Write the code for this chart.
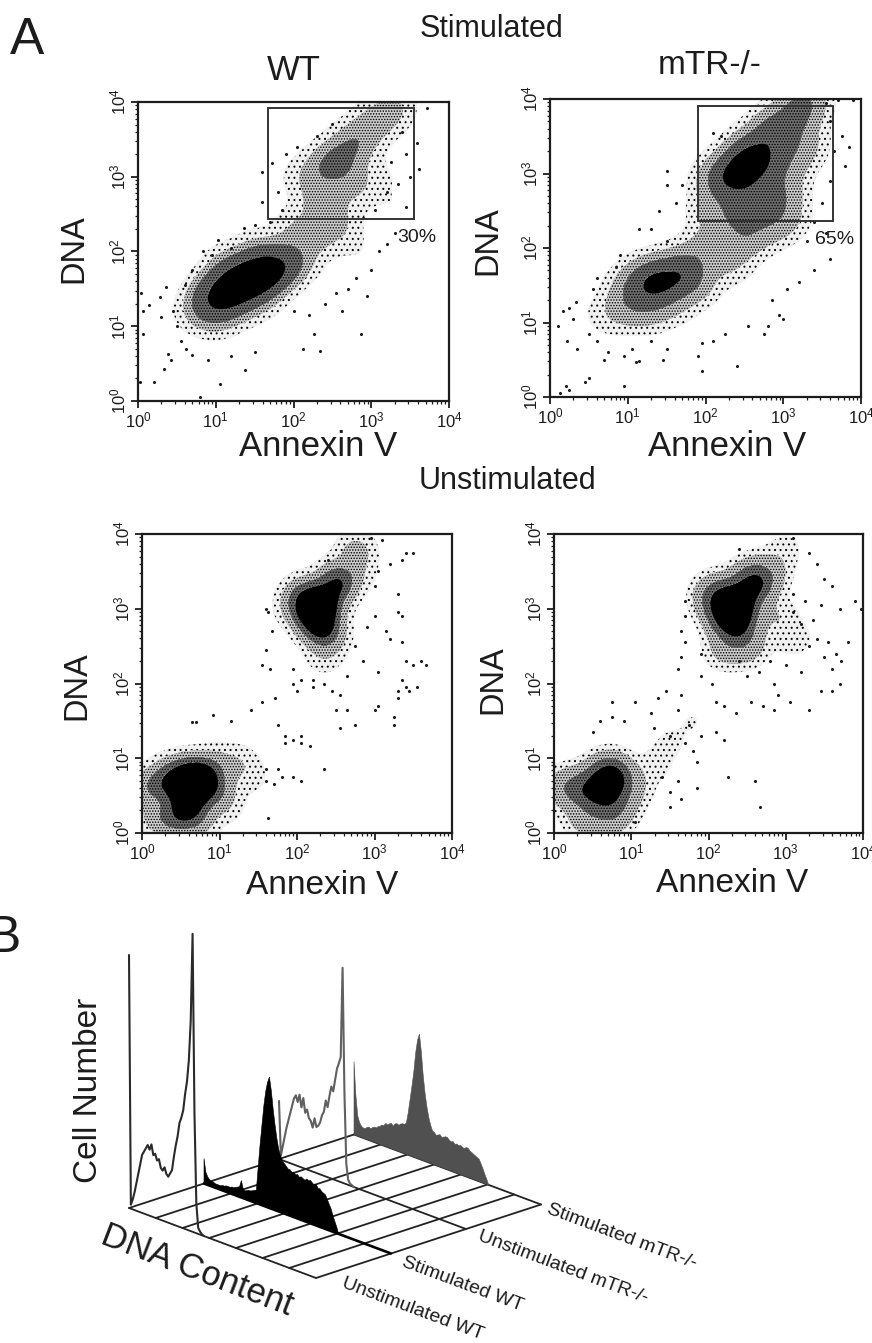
import numpy as np, pandas as pd, matplotlib
matplotlib.use("Agg")
import matplotlib.pyplot as plt, seaborn as sns
from matplotlib.patches import Rectangle
from matplotlib.ticker import LogLocator, LogFormatterMathtext, NullFormatter

# ---- data (log10 decades) ----
a1_dots=[(.04,1.44),(.06,1.21),(.14,1.28),(.06,.89),(.2,.25),(.02,.25),(.34,.43),(.43,.55),(.39,.63),(.36,1.53),(.28,1.39),(.29,1.13),(1.06,.23),(1.38,.41),(2.12,.7),(2.34,.67),(2.27,.89),(2.87,.89),(2.94,1.4),(2.62,1.21),(3.59,3.45),(3.61,3.1),(3.72,3.92),(1.59,3.06),(1.59,2.66),(1.72,3.19),(1.03,2.15),(.84,2.0),(1.36,2.31),(.8,.05),(.55,.8),(.62,.7),(.7,.62),(.9,.55),(1.2,.6),(1.5,.65),(.5,1.0),(.45,1.2),(.6,1.55),(.7,1.75),(.95,1.95),(1.2,2.05),(1.5,2.35),(1.7,2.4),(2.0,1.2),(2.2,1.15),(2.4,1.3),(2.55,1.45),(2.7,1.5),(2.8,1.65),(3.0,1.75),(3.1,2.0),(3.2,2.1),(3.3,2.25),(1.8,2.8),(1.85,2.55),(1.9,3.3),(2.05,3.4),(2.3,3.55),(2.5,3.7),(3.45,2.6),(3.5,3.0),(3.45,3.3),(3.4,3.6),(3.25,3.2),(3.2,2.8),(3.05,2.55),(2.9,2.45),(3.35,2.9)]
a2_dots=[(.13,.05),(.2,.15),(.25,.1),(.45,.2),(.5,.25),(.95,.15),(.7,.5),(1.1,.47),(1.15,.48),(1.45,.5),(1.9,.55),(1.95,.35),(2.4,.42),(.1,.95),(.17,1.15),(.25,1.2),(.33,1.27),(.3,1.05),(.22,.75),(.35,.65),(.5,.85),(.6,.75),(.75,.6),(.95,.55),(1.05,.65),(1.3,.75),(1.5,.65),(1.95,.72),(2.1,.75),(2.25,.85),(2.55,.95),(2.75,.85),(2.8,.95),(3.0,1.05),(2.85,1.3),(2.95,1.1),(3.05,1.45),(3.2,1.55),(3.4,1.7),(3.6,1.85),(1.15,2.25),(1.3,2.25),(1.5,2.1),(1.4,2.5),(1.5,2.85),(1.62,2.6),(1.5,3.03),(1.7,2.85),(2.1,3.55),(2.2,3.5),(3.8,3.1),(3.75,3.5),(3.85,3.35),(3.65,3.3),(3.6,3.7),(3.55,3.95),(3.7,3.98),(3.9,3.99),(3.6,2.9),(3.5,2.6),(3.4,2.35),(3.55,2.2),(3.3,2.1),(.9,1.9),(.85,1.75),(.6,1.6),(.55,1.45)]
b1_dots=[(1.6,3.0),(1.63,2.95),(1.6,2.45),(1.55,2.25),(1.65,2.2),(1.68,2.7),(1.72,1.8),(1.55,1.75),(1.4,1.65),(1.15,1.5),(.92,1.58),(.65,1.48),(.7,1.48),(1.75,1.45),(1.85,1.3),(1.85,1.2),(1.95,1.25),(2.05,1.3),(2.05,1.2),(2.17,1.17),(2.35,.85),(1.75,.85),(1.8,.75),(1.95,.75),(2.05,.7),(1.7,.65),(1.6,.7),(1.6,.85),(1.62,.2),(2.4,3.65),(2.95,3.95),(3.1,3.92),(3.4,3.75),(3.5,3.75),(3.35,3.65),(3.2,3.6),(3.05,3.5),(3.0,3.3),(3.3,3.2),(3.3,2.95),(3.35,2.9),(3.0,2.9),(2.9,2.75),(3.15,2.7),(3.2,2.6),(3.35,2.55),(3.4,2.3),(3.5,2.25),(3.6,2.3),(3.67,2.25),(3.35,2.05),(3.3,1.9),(3.4,1.95),(3.45,1.9),(3.55,1.95),(3.3,1.8),(3.05,2.15),(2.85,2.3),(2.75,2.5),(2.65,2.1),(2.55,1.85),(2.5,1.65),(2.65,1.65),(2.55,1.4),(2.75,1.45),(3.0,1.65),(3.05,1.7),(3.25,1.45),(3.25,1.55),(2.2,2.05),(2.05,2.05),(1.95,2.0),(2.0,1.9),(2.2,1.95),(1.95,2.2),(2.35,2.0),(2.45,1.9)]
b2_dots=[(3.9,3.1),(3.98,3.0),(3.7,3.0),(3.6,3.3),(3.5,3.4),(3.4,3.6),(3.3,3.75),(3.1,3.95),(2.4,3.8),(1.7,3.1),(1.7,2.9),(1.65,2.7),(1.7,2.55),(1.65,2.35),(1.6,2.2),(1.9,2.4),(1.9,2.1),(2.05,2.0),(2.1,1.75),(2.2,1.7),(2.35,1.6),(2.55,1.75),(2.7,1.7),(2.85,1.65),(3.05,1.75),(3.3,1.65),(3.45,1.9),(3.6,1.9),(3.7,2.0),(3.6,2.2),(3.55,2.55),(3.65,2.4),(3.8,2.55),(3.72,2.3),(3.5,2.35),(3.4,2.6),(3.3,2.5),(3.2,2.15),(3.0,2.25),(2.8,2.3),(2.65,2.15),(2.5,2.1),(2.4,2.3),(2.85,2.0),(2.9,1.85),(3.2,2.8),(3.1,2.95),(3.35,2.85),(3.25,3.1),(3.1,3.2),(3.45,3.05),(1.45,1.9),(1.65,1.85),(1.6,1.65),(1.35,1.8),(1.25,1.6),(1.05,1.75),(.75,1.75),(.75,1.55),(.6,1.5),(.5,1.35),(.9,1.5),(1.3,1.4),(1.5,1.3),(1.7,1.2),(1.8,1.1),(1.9,1.3),(2.1,1.35),(2.2,1.25),(2.25,.75),(2.6,.7),(2.67,.35),(1.65,.45),(1.85,.6),(1.4,.75),(1.5,.55),(1.5,.35),(1.05,.15),(1.6,.7),(1.85,.95),(1.75,1.45)]

a1_core=[(.85,1.3,3),(1.0,1.4,8),(1.15,1.5,9),(1.3,1.6,10),(1.45,1.65,10),(1.6,1.72,10),(1.75,1.78,8),(1.9,1.85,4),(1.0,1.15,3),(1.3,1.3,3),(1.6,1.4,2),(.7,1.15,1),(1.1,1.85,1.5),(1.5,2.05,1.5),(2.1,1.9,2),(2.0,2.3,2),(2.3,2.2,2.5),(2.5,2.45,3),(2.7,2.2,1),(2.9,1.9,.5),(2.3,2.7,2.5),(2.1,3.0,1.5),(2.4,3.1,3.5),(2.55,3.25,3.5),(2.75,3.4,3.5),(2.9,3.6,2.5),(3.1,3.75,2.5),(3.3,3.93,2.5),(2.8,2.8,1.5),(3.1,3.0,1),(3.3,2.6,.7),(2.7,3.0,2)]
a2_core=[(.7,1.1,1),(1.0,1.2,3),(1.3,1.2,3),(1.0,1.45,2),(1.24,1.53,8),(1.45,1.58,8),(1.72,1.68,8),(1.6,1.3,2),(1.9,1.5,2),(2.0,2.0,3),(2.3,1.8,2),(2.5,2.1,3),(2.1,2.5,3),(2.45,2.42,5),(2.8,2.3,3),(3.05,2.4,2),(2.15,2.9,4),(2.36,2.96,9),(2.5,3.1,9),(2.62,3.27,9),(2.88,3.54,8),(2.8,3.1,4),(3.1,3.2,3),(3.0,2.8,3),(3.26,3.94,6),(3.1,3.7,4),(3.3,3.4,2),(2.6,2.7,4),(2.9,2.6,3)]
b1_core=[(.1,.6,3),(.36,.71,6),(.75,.71,10),(.58,.45,9),(.6,.75,9),(.45,.2,4),(.7,.2,3),(.2,.2,2),(.95,.55,3),(.95,.9,2),(1.25,.95,1),(1.4,.75,.7),(1.1,.35,.7),(2.31,3.08,10),(2.52,3.35,7),(2.31,2.77,7),(2.09,3.15,5),(2.2,2.95,8),(2.4,2.6,2),(2.76,3.77,2),(2.8,3.5,.8),(1.95,3.0,.8),(2.35,2.35,.8)]
b2_core=[(.1,.6,2),(.35,.6,4),(.72,.76,10),(.6,.55,6),(.8,.35,3),(.4,.2,2),(.7,.15,1.5),(1.0,.6,1.5),(1.3,.9,.6),(1.5,1.2,.5),(1.8,1.5,.4),(2.36,3.08,10),(2.58,3.35,8),(2.36,2.77,6),(2.1,3.17,5),(2.25,2.95,8),(2.5,2.5,2),(2.8,3.5,1.5),(2.9,2.9,1),(3.1,2.6,.8),(3.0,3.8,.6),(2.2,2.45,1.5)]

a1_gate=(1.667,3.55,2.43,3.915); a2_gate=(1.90,3.64,2.366,3.90)
a1_pct="30%"; a2_pct="65%"

dna_step=0.01
unstim_wt=[253,4,10,18,28,38,48,58,62,66,70,66,72,62,64,58,60,52,50,54,48,46,50,54,68,80,90,104,110,118,135,148,170,210,298,120,30,6,3,1,0]
stim_wt=[25,12,8,6,5,5,4,4,4,4,5,5,6,6,6,7,7,8,9,10,17,9,8,9,10,10,11,12,13,37,60,80,100,115,125,131,118,100,85,72,62,56,52,50,48,46,46,44,45,43,44,42,43,42,41,43,42,43,41,40,41,38,38,36,35,34,30,26,22,16,11,6,0]
unstim_mtr=[58,4,14,24,34,42,50,58,66,70,64,72,60,70,56,60,52,50,44,54,46,48,52,60,64,76,70,82,92,88,100,112,118,125,215,90,20,5,2,1,0]
stim_mtr=[73,40,20,14,11,10,10,12,13,12,14,15,15,17,18,20,20,23,22,24,25,23,26,27,26,28,29,29,31,42,56,70,85,105,118,125,108,85,68,55,45,38,33,32,30,31,32,30,31,32,32,30,29,30,28,29,28,29,28,27,29,29,27,26,25,24,23,22,18,14,9,5,0]
series_labels=["Unstimulated WT","Stimulated WT","Unstimulated mTR-/-","Stimulated mTR-/-"]

# ---- figure ----
sns.set_theme(style="white")
plt.rcParams['font.family']=['Liberation Sans','DejaVu Sans']
plt.rcParams['mathtext.default']='regular'
plt.rcParams['hatch.linewidth']=0.7
W,H=872,1343
fig=plt.figure(figsize=(W/100,H/100),dpi=100,facecolor="white")
INK="#1c1c1c"

def panel(box,dots,core,sig,levels,gate=None):
    l,r,t,b=box
    ax=fig.add_axes([l/W,1-b/H,(r-l)/W,(b-t)/H])
    ax.set_xscale("log"); ax.set_yscale("log")
    g=np.linspace(0,4,321); X,Y=np.meshgrid(g,g); Z=np.zeros_like(X)
    for cx,cy,w in core:
        Z+=w*np.exp(-((X-cx)**2+(Y-cy)**2)/(2*sig**2))
    Z/=Z.max()
    cs=ax.contourf(10**X,10**Y,Z,levels=levels,colors=["#f0f0f0","#cccccc","#6e6e6e","#000000"],hatches=["...","......","......",None],zorder=1)
    cs.set_edgecolor("black"); cs.set_linewidth(0)
    d=pd.DataFrame(dots,columns=["x","y"]); d[["x","y"]]=10**d[["x","y"]]
    sns.scatterplot(data=d,x="x",y="y",s=5,color="k",linewidth=0,ax=ax,zorder=2)
    ax.set_xlim(1,1e4); ax.set_ylim(1,1e4)
    ax.set_xlabel(""); ax.set_ylabel("")
    for s in ax.spines.values():
        s.set_visible(True); s.set_linewidth(1.6); s.set_color(INK)
    for a in (ax.xaxis,ax.yaxis):
        a.set_major_locator(LogLocator(10,numticks=6))
        a.set_minor_locator(LogLocator(10,subs=np.arange(2,10),numticks=6))
        a.set_major_formatter(LogFormatterMathtext()); a.set_minor_formatter(NullFormatter())
    ax.tick_params(which="major",direction="out",length=5,width=1.3,color=INK,labelsize=12,pad=2,left=True,bottom=True,labelcolor=INK)
    ax.tick_params(which="minor",direction="out",length=2.5,width=.9,color=INK,left=True,bottom=True)
    for tl in ax.get_yticklabels(): tl.set_rotation(90); tl.set_va("center")
    if gate:
        ax.add_patch(Rectangle((10**gate[0],10**gate[2]),10**gate[1]-10**gate[0],10**gate[3]-10**gate[2],fill=False,ec="#333333",lw=1.4,zorder=5))
    return ax

panel((138,449,102,401),a1_dots,a1_core,.19,[.03,.09,.2,.5,1.01],a1_gate)
panel((550,861,99,397),a2_dots,a2_core,.19,[.03,.1,.28,.62,1.01],a2_gate)
panel((142,452,534,833),b1_dots,b1_core,.16,[.02,.07,.2,.36,1.01])
panel((554,863,534,833),b2_dots,b2_core,.17,[.02,.06,.2,.38,1.01])

# overlay in picture pixels
ov=fig.add_axes([0,0,1,1],facecolor="none"); ov.set_xlim(0,W); ov.set_ylim(H,0); ov.axis("off")
def T(x,y,s,size,rot=0,**k):
    ov.text(x,y,s,fontsize=size,rotation=rot,rotation_mode="anchor",ha="center",va="center",color=INK,clip_on=False,**k)
T(27,40,"A",37); T(4,938,"B",37)
T(491,29,"Stimulated",22); T(294,70,"WT",25); T(710,66,"mTR-/-",24); T(507,481,"Unstimulated",22)
T(74,249,"DNA",23.5,90); T(488,241,"DNA",23.5,90)
T(77,686,"DNA",23.5,90); T(493,680,"DNA",23.5,90)
T(318,447,"Annexin V",25); T(727,447,"Annexin V",25)
T(322,886,"Annexin V",24); T(732,883,"Annexin V",24)
T(417,238,a1_pct,14); T(835,240,a2_pct,14)
T(88,1090,"Cell Number",24,90)

# panel B: oblique projection of (DNA position, series, height)
origin=np.array([129.,1208.]); dna_vec=np.array([187.,70.]); depth_vec=np.array([75.,-24.5])
def P(t,i,h=0):
    t=np.asarray(t,float); h=np.asarray(h,float)
    return origin[0]+t*dna_vec[0]+i*depth_vec[0], origin[1]+t*dna_vec[1]+i*depth_vec[1]-h
for k in range(8):
    x,y=P([k/7,k/7],np.array([0,3]))
    ov.plot(x,y,color="#222222",lw=1.3,solid_capstyle="round")
for i in range(4):
    x,y=P([0,1],i); ov.plot(x,y,color="#222222" if i!=1 else "#000000",lw=1.3 if i!=1 else 1.9)

def hist(vals,i,color,fill):
    t=np.arange(len(vals))*dna_step
    x,y=P(t,i,np.array(vals,float))
    if fill:
        x0,y0=P(t,i)
        ov.fill(np.r_[x,x0[::-1]],np.r_[y,y0[::-1]],color=color,lw=.4,zorder=3)
    else:
        sns.lineplot(x=x,y=y,sort=False,estimator=None,color=color,lw=1.5,ax=ov,zorder=3)
hist(stim_mtr,3,"#505050",True)
hist(unstim_mtr,2,"#606060",False)
hist(stim_wt,1,"#000000",True)
hist(unstim_wt,0,"#2a2a2a",False)
ov.set_xlim(0,W); ov.set_ylim(H,0); ov.set_xlabel(""); ov.set_ylabel(""); ov.axis("off")

T(197,1270,"DNA Content",25,-21)
for lab,(x,y) in zip(series_labels,[(413,1309),(463,1284),(563,1267),(622,1237)]):
    T(x,y,lab,14,-20.5)
fig.savefig("out.png",dpi=100)
